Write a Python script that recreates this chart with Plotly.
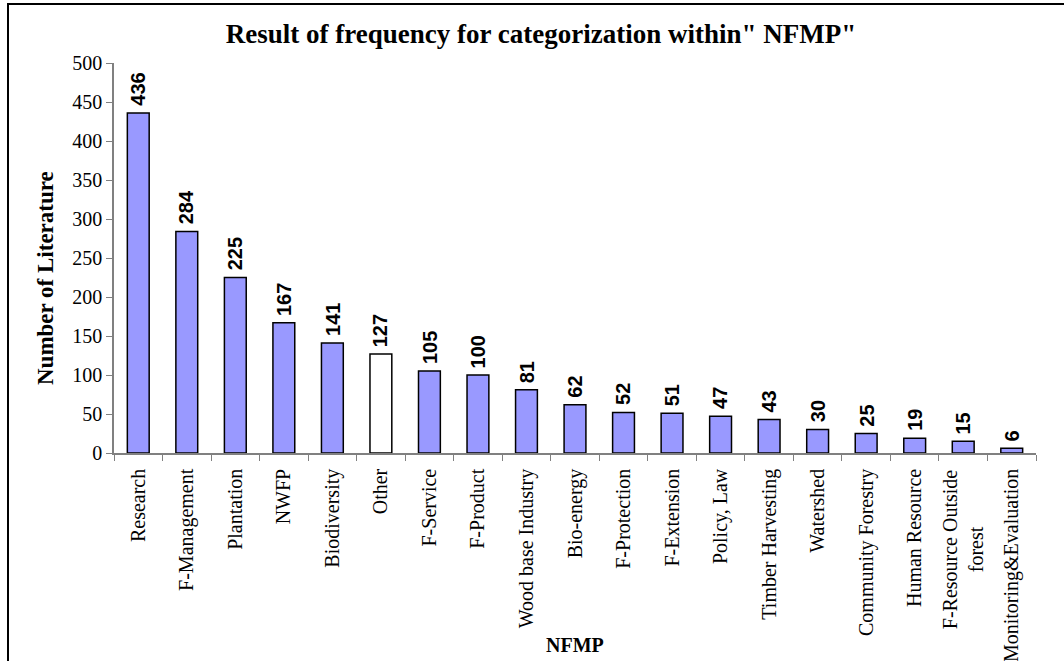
import plotly.graph_objects as go

categories = ["Research", "F-Management", "Plantation", "NWFP", "Biodiversity", "Other",
              "F-Service", "F-Product", "Wood base Industry", "Bio-energy", "F-Protection",
              "F-Extension", "Policy, Law", "Timber Harvesting", "Watershed",
              "Community Forestry", "Human Resource", "F-Resource Outside<br>forest",
              "Monitoring&Evaluation"]
values = [436, 284, 225, 167, 141, 127, 105, 100, 81, 62, 52, 51, 47, 43, 30, 25, 19, 15, 6]
colors = ["#FFFFFF" if c == "Other" else "#9999FF" for c in categories]
y_ticks = [0, 50, 100, 150, 200, 250, 300, 350, 400, 450, 500]

SERIF = "Liberation Serif, Times New Roman, serif"
SANS = "Liberation Sans, Arial, sans-serif"

fig = go.Figure(go.Bar(
    x=categories, y=values,
    marker=dict(color=colors, line=dict(color="black", width=1.5)),
    width=0.45,
))

L, R, T, B = 114, 28, 63, 208
W, H = 1064, 661
pw, ph = W - L - R, H - T - B

for c, v in zip(categories, values):
    fig.add_annotation(x=c, y=v, text=f"<b>{v}</b>", textangle=-90, showarrow=False,
                       xanchor="center", yanchor="bottom", yshift=5,
                       font=dict(family=SANS, size=20, color="black"))

# multi-line category labels drawn centred (tick labels would right-align them)
ticktext = []
for c in categories:
    if "<br>" in c:
        ticktext.append("")
        fig.add_annotation(x=c, yref="paper", y=0, yshift=-14, text=c, textangle=-90,
                           showarrow=False, xanchor="center", yanchor="top", align="center",
                           font=dict(family=SERIF, size=20, color="black"))
    else:
        ticktext.append(c)

fig.add_annotation(xref="paper", yref="paper", x=(575 - L) / pw, y=1 - (645 - T) / ph,
                   text="<b>NFMP</b>", showarrow=False, xanchor="center", yanchor="middle",
                   font=dict(family=SERIF, size=20, color="black"))
fig.add_annotation(xref="paper", yref="paper", x=(45 - L) / pw, y=1 - (278 - T) / ph,
                   text="<b>Number of Literature</b>", textangle=-90, showarrow=False,
                   xanchor="center", yanchor="middle",
                   font=dict(family=SERIF, size=23, color="black"))

fig.update_layout(
    width=W, height=H,
    margin=dict(l=L, r=R, t=T, b=B),
    paper_bgcolor="white", plot_bgcolor="white",
    showlegend=False,
    title=dict(text="<b>Result of frequency for categorization within\" NFMP\"</b>",
               x=541 / W, xanchor="center", y=1 - 34 / H, yanchor="middle",
               font=dict(family=SERIF, size=27, color="black")),
    font=dict(family=SERIF, size=20, color="black"),
    xaxis=dict(
        tickangle=-90, showline=True, linecolor="#808080", linewidth=1.5,
        ticks="outside", tickcolor="#808080", ticklen=6, tickson="boundaries",
        tickmode="array", tickvals=categories, ticktext=ticktext, ticklabelstandoff=6,
        tickfont=dict(family=SERIF, size=20, color="black"),
        showgrid=False, automargin=False,
    ),
    yaxis=dict(
        range=[0, 500], tickvals=y_ticks, showline=True, linecolor="#808080", linewidth=1.5,
        ticks="outside", tickcolor="#808080", ticklen=6, showgrid=False, zeroline=False,
        tickfont=dict(family=SERIF, size=20, color="black"),
        automargin=False,
    ),
)

# outer chart frame
fig.add_shape(type="rect", xref="paper", yref="paper",
              x0=(8 - L) / pw, x1=(W + 20 - L) / pw,
              y0=1 - (H + 20 - T) / ph, y1=1 + (T - 4) / ph,
              line=dict(color="black", width=2), fillcolor="rgba(0,0,0,0)", layer="below")

fig.write_html("out.html")
